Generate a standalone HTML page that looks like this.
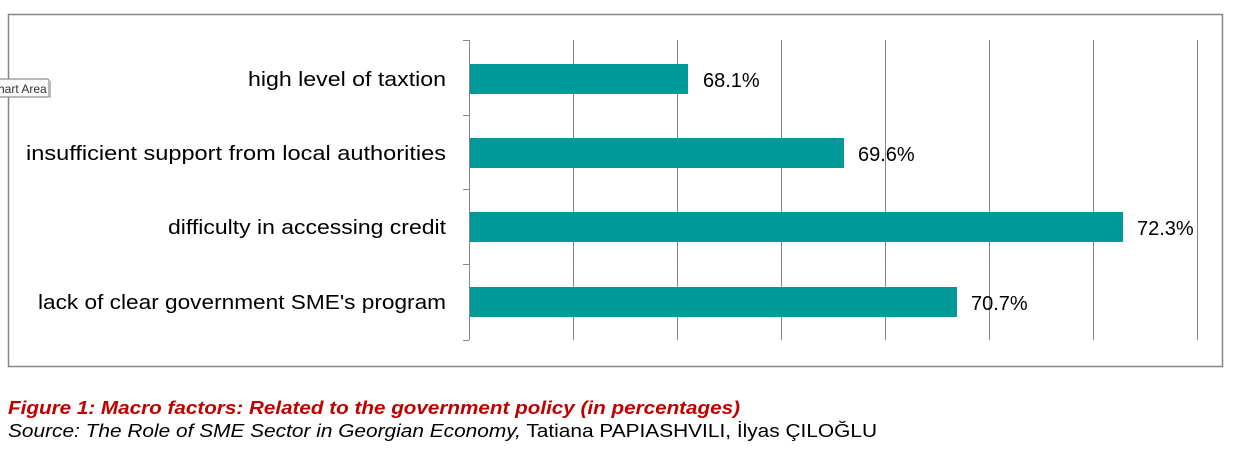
<!DOCTYPE html>
<html><head><style>body{margin:0;background:#fff}</style></head><body>
<svg width="1238" height="467" xmlns="http://www.w3.org/2000/svg" font-family="Liberation Sans, sans-serif">
<rect x="8.5" y="14.5" width="1214" height="352" fill="#fff" stroke="#868686" stroke-width="1.5"/>
<g stroke="#868686" stroke-width="1">
<line x1="573.5" y1="40" x2="573.5" y2="340"/><line x1="677.5" y1="40" x2="677.5" y2="340"/>
<line x1="781.5" y1="40" x2="781.5" y2="340"/><line x1="885.5" y1="40" x2="885.5" y2="340"/>
<line x1="989.5" y1="40" x2="989.5" y2="340"/><line x1="1093.5" y1="40" x2="1093.5" y2="340"/>
<line x1="1197.5" y1="40" x2="1197.5" y2="340"/>
<line x1="469.5" y1="40" x2="469.5" y2="340"/>
<line x1="463" y1="40.5" x2="469" y2="40.5"/><line x1="463" y1="115.5" x2="469" y2="115.5"/>
<line x1="463" y1="189.5" x2="469" y2="189.5"/><line x1="463" y1="264.5" x2="469" y2="264.5"/>
<line x1="463" y1="340.5" x2="469" y2="340.5"/>
</g>
<g fill="#009999">
<rect x="470" y="64" width="218" height="30"/>
<rect x="470" y="138" width="374" height="30"/>
<rect x="470" y="212" width="653" height="30"/>
<rect x="470" y="287" width="487" height="30"/>
</g>
<g font-size="20" fill="#000" text-anchor="end">
<text x="446" y="86" textLength="198" lengthAdjust="spacingAndGlyphs">high level of taxtion</text>
<text x="446" y="160" textLength="420" lengthAdjust="spacingAndGlyphs">insufficient support from local authorities</text>
<text x="446" y="234" textLength="278" lengthAdjust="spacingAndGlyphs">difficulty in accessing credit</text>
<text x="446" y="309" textLength="408" lengthAdjust="spacingAndGlyphs">lack of clear government SME's program</text>
</g>
<g font-size="20" fill="#000">
<text x="703" y="87">68.1%</text>
<text x="858" y="161">69.6%</text>
<text x="1137" y="235">72.3%</text>
<text x="971" y="310">70.7%</text>
</g>
<rect x="-4" y="79" width="53" height="18" rx="2" fill="#fafafa" stroke="#767676"/>
<line x1="50" y1="81" x2="50" y2="98" stroke="#bbb" stroke-width="2"/>
<text x="-2" y="93" font-size="12" fill="#333">hart Area</text>
<text x="8" y="414" font-size="18" font-weight="bold" font-style="italic" fill="#c00000" textLength="732" lengthAdjust="spacingAndGlyphs">Figure 1: Macro factors: Related to the government policy (in percentages)</text>
<text x="8" y="437" font-size="18" fill="#000" textLength="869" lengthAdjust="spacingAndGlyphs"><tspan font-style="italic">Source: The Role of SME Sector in Georgian Economy,</tspan> Tatiana PAPIASHVILI, İlyas ÇILOĞLU</text>
</svg>
</body></html>
